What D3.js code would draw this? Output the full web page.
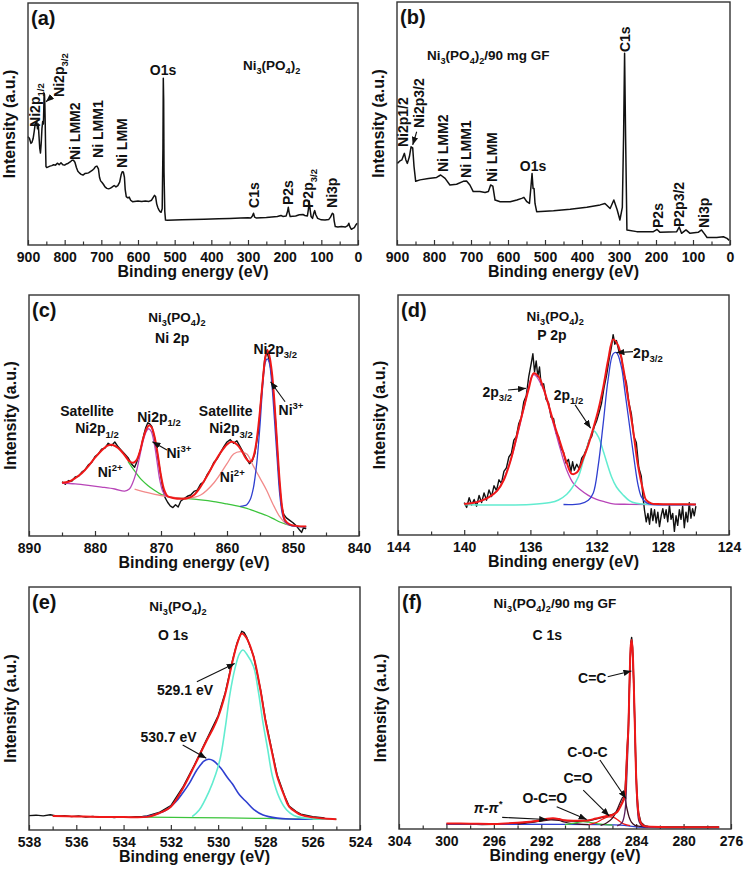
<!DOCTYPE html>
<html><head><meta charset="utf-8">
<script src="https://cdn.jsdelivr.net/npm/d3@7"></script>
<style>
body{margin:0;background:#fff}
text{font-family:"Liberation Sans",Arial,sans-serif;font-weight:bold;fill:#111}
</style>
</head><body><script>
// ---------------- DATA ----------------
// (a) survey Ni3(PO4)2  [binding energy eV, intensity a.u.]
const surveyA = [[900,44.8],[896,44],[892,42],[889,42.5],[886,44],[883,47],[880,50.5],[878,50],[876,51],[874,48],[872,50],[870,45],[868,40],[866,38],[864,42],[862,48],[860,51],[858,50],[857,56],[856,62.7],[855,62],[854,58],[853,50],[852,40],[851,32.4],[849,32],[846,32.2],[840,32.6],[835,32.8],[830,33.2],[825,33],[820,33.8],[815,33.2],[810,34],[805,33.2],[800,33],[795,33.5],[790,33.8],[785,34.3],[780,35],[776,35],[772,34.2],[768,32],[764,30.5],[760,29.8],[755,29.2],[750,28.9],[745,29.5],[740,29.6],[735,29.8],[730,30.3],[725,30.8],[720,31.5],[716,32.4],[712,32.6],[708,31.5],[705,28],[702,26.5],[698,25.8],[694,25],[690,24],[685,23.4],[680,23.2],[675,23.5],[670,24],[665,24.6],[660,24],[655,24.5],[650,26],[646,29],[643,30.3],[640,30.2],[637,28],[635,23],[632,20],[628,19.5],[624,19.8],[620,18.5],[615,17.9],[610,18],[600,18.2],[590,18],[580,18.2],[570,18],[563,18.5],[558,19.8],[555,20.5],[552,20],[549,17],[546,15.5],[543,14.5],[540,13.8],[537,13.5],[534,15],[532,40],[531,68.9],[530,60],[529,30],[527,14],[525,10.3],[520,10.2],[500,10.3],[480,10.4],[450,10.5],[420,10.6],[400,10.7],[380,10.8],[350,11],[320,11.2],[300,11.3],[292,11.2],[288,12],[285,13.1],[282,11.5],[278,11.2],[250,11.4],[220,11.8],[210,12.2],[205,11.8],[196,12],[192,14],[190,15.6],[188,13.5],[185,11.8],[170,12],[160,12.5],[150,12.6],[145,12.2],[138,12],[135,15],[133,18.2],[131,15],[128,11.8],[124,11],[120,13.5],[118,14.2],[115,12.5],[110,11],[100,10.4],[90,10.3],[80,10.5],[75,11.5],[70,13.1],[67,12.8],[65,10],[62,7.6],[55,7.4],[45,7.6],[35,7.4],[28,8],[25,9],[22,7.5],[18,6.5],[15,6.8],[10,7.2],[5,8.5],[2,9]];

// (b) survey Ni3(PO4)2/90 mg GF
const surveyB = [[899,33.6],[893,34.5],[887,35],[880,37.7],[876,35],[872,33.6],[866.6,36.3],[862,40.4],[857.6,40],[854,32.3],[849.5,26.2],[837.8,26.8],[815,27.4],[793,27.8],[782,28.8],[770,27.4],[757,24.7],[739,25],[721,26.2],[712,26.3],[703,24.7],[694,22],[676,22],[662,21.6],[653,22],[647,24.7],[641,24.2],[635,18.5],[621,17.8],[594,17.8],[576,18.5],[563,19.2],[557,19.6],[549,17.8],[542,17.1],[538,23.9],[535,29.4],[532.3,23.3],[529.6,23.3],[527,17.1],[522.5,13.7],[477,14.1],[432,14.7],[387,15.5],[351,16.5],[338,17.1],[324,15],[314,18.5],[305,14.5],[297.5,10.3],[291,15.5],[287.6,45],[284.9,78.9],[282.2,45],[278.6,6.2],[252,5.5],[207,5.5],[197,6.4],[189,5.2],[144,5.5],[137.3,7.4],[131,4.8],[119,6.2],[108,4.8],[86,5.2],[77,6.2],[70,4.8],[62,3.1],[36,3.1],[18,3.4],[8,2.7],[2,1.9]];

// (c) Ni 2p high resolution
const ni2pData = [[885,22.5],[884.5,21.5],[884,23],[883.5,22.8],[883,24.5],[882.5,24.8],[882,26.5],[881.5,27.5],[881,29.5],[880.5,30.5],[880,33],[879.5,34],[879,36],[878.5,36.5],[878,38.5],[877.5,37.5],[877,39],[876.5,37],[876,35.5],[875.5,34],[875,32.5],[874.5,30],[874,28.5],[873.7,30.5],[873.4,33],[873,37],[872.6,42],[872.3,45],[872,47],[871.7,46.5],[871.4,45.5],[871,41],[870.6,35],[870.2,28],[869.8,21],[869.4,16],[869,14],[868.6,12.5],[868.2,11.8],[867.8,13],[867.4,12],[867,14.5],[866.5,15.5],[866,16.5],[865.5,17],[865,18.5],[864.5,19],[864,21.5],[863.5,22.5],[863,25.5],[862.5,27.5],[862,30.5],[861.5,32],[861,34.5],[860.5,37],[860,39],[859.5,40],[859,38.5],[858.5,39.5],[858,37],[857.5,34.5],[857,32],[856.6,30],[856.2,31],[855.8,34],[855.5,39],[855.2,44],[854.9,55],[854.6,64],[854.3,73],[854,76.5],[853.8,75],[853.5,72],[853.2,66],[852.9,57],[852.6,46],[852.3,32],[852,20],[851.7,12],[851.4,9],[851,7.5],[850.5,6.5],[850,5.5],[849.5,4.2],[849,2.5],[848.7,1.5],[848.4,3.5],[848,3]];
const ni2pFit = [[885,22.1],[884,22.5],[883,24],[882,26],[881,29],[880,32.5],[879,35.5],[878,37.6],[877.3,37.8],[876.5,36.5],[875.5,33.5],[874.8,31],[874.2,30.4],[873.7,31.5],[873.2,35],[872.7,40.5],[872.2,44.5],[871.8,46],[871.4,45],[871,41.5],[870.5,34],[870,25],[869.5,19],[869,16.5],[868,15.7],[867,15.5],[866,15.7],[865,17],[864,20.5],[863,25],[862,30],[861,34.5],[860,38],[859.3,39.1],[858.5,38],[857.8,35.5],[857.2,32.5],[856.6,30.8],[856.2,31.5],[855.8,35],[855.4,42],[855,52],[854.6,64],[854.2,74],[853.9,77.2],[853.6,75],[853.2,68],[852.8,55],[852.4,38],[852,22],[851.6,11],[851.2,6.5],[850.5,4.8],[849.5,4.2],[848,3.9]];
const ni2pNi3p32 = [[858,12.3],[857.5,12.5],[857,13],[856.5,15],[856,20],[855.5,30],[855,46],[854.6,62],[854.2,72],[853.9,73.5],[853.6,72],[853.2,63],[852.8,48],[852.4,32],[852,17],[851.6,9],[851.2,6],[850.5,4.5],[849.5,4],[848,3.8]];
const ni2pNi3p12 = [[885,22],[883,21.6],[881,21],[879,20.3],[877,19.5],[875.5,18.6],[874.8,19.5],[874.3,22],[873.8,26],[873.3,32],[872.8,38.5],[872.3,43],[871.9,44.5],[871.5,43.5],[871,38],[870.6,31],[870.2,23.5],[869.8,19],[869.4,17],[869,16.3]];
const ni2pNi2p32 = [[874,19.5],[872,18],[870,16.8],[868,16],[866,15.6],[864,17],[862,22],[860,30],[859,34],[858,35],[857,34],[856,29],[855,24],[854,19],[853,13],[852,8],[851,5],[850,4.2],[848,4]];
const ni2pSat = [[875,31],[874,27],[873,23.5],[872,21],[871,19],[870,17.3],[869,16.3],[868,15.8],[866,15.5],[864,15],[862,14.3],[860,13.3],[858,12.2],[857,11.5],[856,10.5],[855,9.5],[854,8.5],[853,7.2],[852,5.8],[851,4.8],[850,4.2],[848,3.8]];

// (d) P 2p
const p2pData = [[140,13.5],[139.85,11.5],[139.7,15.5],[139.55,12.5],[139.4,14.8],[139.25,12],[139.1,16.5],[138.95,13.5],[138.8,17.5],[138.65,14.5],[138.5,18.8],[138.35,16],[138.2,20.5],[138.05,18.5],[137.9,23],[137.75,21.5],[137.6,26.5],[137.45,28],[137.3,32.5],[137.15,34],[137,39.5],[136.85,41],[136.7,46.5],[136.55,49],[136.4,55.5],[136.25,58],[136.1,66],[135.95,71.5],[135.85,75.5],[135.75,68],[135.65,72.5],[135.55,66],[135.45,70],[135.35,62.5],[135.2,63],[135.05,56.5],[134.9,55],[134.75,49],[134.6,48.5],[134.45,42.5],[134.3,41],[134.15,36],[134,34.5],[133.85,30],[133.7,31.5],[133.55,26.5],[133.45,30.5],[133.35,27],[133.2,29.5],[133.05,27.5],[132.9,32],[132.75,33.5],[132.6,36],[132.45,39.5],[132.3,41],[132.15,45],[132,47.5],[131.85,51],[131.7,55],[131.55,61.5],[131.4,66.5],[131.25,73],[131.1,78.5],[131,83.5],[130.9,79.5],[130.8,81],[130.65,76.5],[130.5,74],[130.35,67],[130.2,63.5],[130.05,55],[129.9,50.5],[129.75,41],[129.6,38.5],[129.45,28],[129.3,24.5],[129.2,16],[129.1,10],[129,5.5],[128.9,9],[128.8,4.5],[128.7,11],[128.6,6],[128.5,10.5],[128.4,5],[128.3,9.5],[128.2,3.5],[128.1,8],[128,11],[127.9,7],[127.8,10.5],[127.7,5.5],[127.6,12.5],[127.5,6.5],[127.4,9],[127.3,1.5],[127.2,8],[127.1,4],[127,10.5],[126.9,6.5],[126.8,12],[126.7,3],[126.6,9.5],[126.5,5.5],[126.4,13.5],[126.3,7],[126.2,11],[126.1,8],[126,12]];
const p2pFit = [[140,12.9],[139.5,13.3],[139,14.2],[138.5,15.8],[138,18.5],[137.6,23],[137.2,31],[136.8,42],[136.4,53],[136.1,61],[135.8,67.4],[135.5,66],[135.2,61],[135,56.5],[134.6,47],[134.2,38.5],[133.8,30],[133.5,25.5],[133.2,26],[132.8,32],[132.5,37.5],[132.2,44.5],[131.9,52],[131.6,61.5],[131.3,73],[131,81.5],[130.7,79],[130.4,70],[130.1,57],[129.8,44],[129.5,29],[129.2,19],[129,14.5],[128.7,13.2],[128.3,12.9],[127,12.8],[126,12.7]];
const p2pA = [[140,12.9],[139,14.2],[138,18.5],[137.2,31],[136.4,52.5],[135.8,66.8],[135.2,60.5],[134.6,46],[134.2,36],[133.8,27],[133.4,21.5],[133,19],[132.5,16.5],[132,14.8],[131.5,13.8],[131,13],[130,12.8],[128,12.7],[126,12.7]];
const p2pB = [[140,12.6],[136,12.7],[134.8,13.5],[134.3,14.6],[133.8,17],[133.5,19.5],[133.1,24.3],[132.8,31],[132.5,38],[132.2,43.5],[131.9,41],[131.6,35],[131.1,24.3],[130.8,20],[130.4,16.7],[130,14.2],[129.6,13.2],[129,12.8],[126,12.7]];
const p2pC = [[134,12.7],[133,13],[132.5,14.5],[132.2,17.5],[131.9,29],[131.6,46.5],[131.3,65],[131,75.5],[130.8,76],[130.5,70],[130.3,60.4],[130,45],[129.7,29.8],[129.5,21],[129.3,16],[129,13.5],[128.7,12.8],[126,12.7]];

// (e) O 1s
const o1sData = [[538,5.9],[537.7,6.1],[537.4,5.8],[537.1,6.3],[536.8,5.7],[536.5,5.9],[536.2,5.5],[535.9,5.8],[535.6,5.3],[535.3,5.6],[535,5.2],[534.7,5.5],[534.4,5.1],[534.1,5.4],[533.8,5.2],[533.5,5.5],[533.2,5.6],[533,5.8],[532.5,7.2],[532,10],[531.5,17.5],[531,26.8],[530.5,37],[530,47],[529.7,56.5],[529.4,69.5],[529.2,77],[529,81.8],[528.9,81.2],[528.8,79.5],[528.5,71.5],[528.2,57.5],[528,45.5],[527.7,31.5],[527.5,22.5],[527.2,14.3],[527,9.9],[526.7,7.6],[526.5,6.5],[526,5.5],[525.5,5]];
const o1sFit = [[537,5.8],[536,5.6],[535,5.4],[534,5.3],[533,5.4],[532.5,6.9],[532,9.6],[531.5,17],[531,26.5],[530.5,36.5],[530.2,42],[530,46.5],[529.7,56],[529.4,69],[529.2,76.5],[529,80.9],[528.8,79],[528.5,71.3],[528.2,57],[528,45],[527.7,31],[527.5,22],[527.2,14],[527,9.6],[526.7,7.3],[526.5,6.2],[526,5.2],[525.5,4.7],[525,4.4]];
const o1sLattice = [[531.1,5.5],[530.8,8.2],[530.4,15.5],[530.1,23],[529.9,30],[529.7,42],[529.5,56],[529.3,66],[529.1,72.5],[528.95,74.1],[528.8,72.5],[528.5,67.2],[528.3,57],[528.1,44],[527.9,33],[527.7,21.9],[527.4,13],[527.1,8.2],[526.8,6],[526.4,5],[525,4.4]];
const o1sDefect = [[533.2,5.3],[532.7,6.3],[532.2,8.2],[531.8,11.5],[531.5,15.2],[531.2,19.5],[530.9,24.7],[530.6,28.3],[530.4,29.1],[530.2,28.5],[529.9,25.6],[529.6,21.5],[529.4,19],[529.1,14.5],[528.8,11.5],[528.5,8.5],[528.1,6.2],[527.5,4.9],[527,4.5],[526,4.4]];
const o1sBase = [[533.2,5.3],[531,5.1],[529,4.9],[527,4.6],[525,4.4]];

// (f) C 1s
const c1sData = [[300,2],[299,1.9],[298,2],[297,1.8],[296,1.9],[295,2.1],[294,2.4],[293,2.9],[292,3.5],[291.5,3.9],[291,4.2],[290.5,4],[290,3.4],[289,3.2],[288,3.4],[287.5,4],[287,4.6],[286.5,5.2],[286,6],[285.6,7.2],[285.3,9.8],[285.1,12],[284.95,14.5],[284.85,23],[284.75,34],[284.66,42],[284.55,63],[284.45,77],[284.38,79.2],[284.3,75],[284.2,61],[284.1,41.5],[284,22.5],[283.9,12.5],[283.8,6.8],[283.6,2.8],[283.3,1.4],[283,1.1],[282,0.9],[280,0.8],[277,0.8]];
const c1sFit = [[300,2.3],[298,2.2],[296,2.1],[294,2.6],[293,3],[292,3.6],[291.5,4.2],[291,4.4],[290.5,4.1],[290,3.6],[289,3.4],[288,3.6],[287.5,4.2],[287,4.8],[286.5,5.4],[286,5.8],[285.6,7],[285.3,9.5],[285.1,11.5],[284.95,14],[284.85,22],[284.75,33],[284.66,41],[284.55,62],[284.45,76],[284.38,78.1],[284.3,74],[284.2,60],[284.1,41],[284,22],[283.9,12],[283.8,6.5],[283.6,2.5],[283.3,1.2],[283,1],[282,0.8],[280,0.7],[277,0.7]];
const c1sCC = [[285.6,1.3],[285.2,2.5],[284.95,7],[284.8,20],[284.66,38],[284.55,60],[284.45,74],[284.38,76],[284.3,72],[284.2,58],[284.1,39],[284,20],[283.9,9],[283.75,3],[283.5,1.3],[283,1]];
const c1sCOC = [[287,1.5],[286.5,2.5],[286,4.5],[285.6,8],[285.3,11.5],[285.1,13.2],[284.95,12.5],[284.8,9],[284.6,5],[284.4,2.8],[284.1,1.5],[283.8,1.2],[283,1]];
const c1sCO = [[288,1.8],[287.3,2.8],[286.8,4.2],[286.3,5],[285.9,4.8],[285.4,3.2],[285,2],[284.5,1.4]];
const c1sOCO = [[290,1.8],[289,2.6],[288.5,3],[288,2.8],[287,2],[286,1.6]];
const c1sPi = [[294,2],[293,2.6],[292,3.3],[291.2,3.8],[290.5,3.5],[290,2.8],[289,2.1],[288,1.8]];
const c1sBase = [[300,2],[290,1.9],[287,1.8],[286,1.7],[285,1.5],[284.5,1.2],[284,0.9],[283,0.7],[277,0.6]];

// tick values
const ticksA = [900,800,700,600,500,400,300,200,100,0];
const ticksC = [890,880,870,860,850,840];
const ticksD = [144,140,136,132,128,124];
const ticksE = [538,536,534,532,530,528,526,524];
const ticksF = [304,300,296,292,288,284,280,276];

// annotation texts & anchors (data coordinates)
const labelsA = [
 {t:"Ni2p_{1/2}",E:880.9,v:48.8,rot:1},{t:"Ni2p_{3/2}",E:815.5,v:61.2,rot:1},
 {t:"Ni LMM2",E:771.8,v:35.1,rot:1},{t:"Ni LMM1",E:709.1,v:36,rot:1},{t:"Ni LMM",E:643.7,v:31.8,rot:1},
 {t:"O1s",E:531.8,v:70.2,mid:1},{t:"Ni_{3}(PO_{4})_{2}",E:313.7,v:72.3,small:1},
 {t:"C1s",E:283.7,v:15.3,rot:1},{t:"P2s",E:191,v:16.5,rot:1},{t:"P2p_{3/2}",E:136.4,v:15.3,rot:1},{t:"Ni3p",E:71,v:15.3,rot:1}];
const arrowsA = [[835,61.3,851,59.2]];
const labelsB = [
 {t:"Ni_{3}(PO_{4})_{2}/90 mg GF",E:818.9,v:76.1,small:1},
 {t:"Ni2p1/2",E:883.8,v:40.3,rot:1},{t:"Ni2p3/2",E:840.5,v:48.1,rot:1},
 {t:"Ni LMM2",E:775.7,v:30,rot:1},{t:"Ni LMM1",E:713.5,v:27.6,rot:1},{t:"Ni LMM",E:643.2,v:25.9,rot:1},
 {t:"O1s",E:532.4,v:30.5,mid:1},{t:"C1s",E:283.8,v:79.4,rot:1},
 {t:"P2s",E:194.6,v:7,rot:1},{t:"P2p3/2",E:137.8,v:7.4,rot:1},{t:"Ni3p",E:70.3,v:7,rot:1}];
const arrowsB = [[846.8,46.6,857.6,41.2]];
const labelsC = [
 {t:"Ni_{3}(PO_{4})_{2}",E:867.6,v:88.8,mid:1,small:1},{t:"Ni 2p",E:868.3,v:80.1,mid:1},
 {t:"Ni2p_{3/2}",E:852.7,v:75.5,mid:1},{t:"Ni^{3+}",E:850.3,v:50.2,mid:1},
 {t:"Satellite",E:881.2,v:49.6,mid:1},{t:"Ni2p_{1/2}",E:879.7,v:42.6,mid:1},
 {t:"Ni2p_{1/2}",E:870.3,v:47.3,mid:1},{t:"Ni^{3+}",E:867.3,v:32.4,mid:1},
 {t:"Ni^{2+}",E:877.7,v:24.5,mid:1},{t:"Satellite",E:860.2,v:49.6,mid:1},
 {t:"Ni2p_{3/2}",E:859.4,v:42.6,mid:1},{t:"Ni^{2+}",E:859.2,v:22.4,mid:1}];
const arrowsC = [[851.2,55.7,853.4,64],[869.1,35.7,871.3,39.1]];
const labelsD = [
 {t:"Ni_{3}(PO_{4})_{2}",E:134.5,v:89.2,mid:1,small:1},{t:"P 2p",E:134.7,v:81.3,mid:1},
 {t:"2p_{3/2}",E:128.9,v:73.75,mid:1},{t:"2p_{3/2}",E:138,v:57.5,mid:1},{t:"2p_{1/2}",E:133.7,v:56.25,mid:1}];
const arrowsD = [[129.8,76.4,130.8,76],[137.35,60.4,136.27,61.1],[133.3,54.2,132.36,44.5]];
const labelsE = [
 {t:"Ni_{3}(PO_{4})_{2}",E:531.7,v:90.1,mid:1,small:1},{t:"O 1s",E:531.9,v:78.2,mid:1},
 {t:"529.1 eV",E:531.4,v:55.6,mid:1},{t:"530.7 eV",E:532.1,v:36.2,mid:1}];
const arrowsE = [[530.9,61,529.3,68.5],[531.5,35,530.5,29.5]];
const labelsF = [
 {t:"Ni_{3}(PO_{4})_{2}/90 mg GF",E:290.85,v:91.3,mid:1,small:1},{t:"C 1s",E:291.5,v:78.1,mid:1},
 {t:"C=C",E:287.7,v:60.3,mid:1},{t:"C-O-C",E:288.1,v:29.8,mid:1},{t:"C=O",E:288.9,v:19,mid:1},
 {t:"O-C=O",E:291.7,v:10.7,mid:1},{t:"π-π^{*}",E:296.5,v:6.6,mid:1,ital:1}];
const arrowsF = [[286.4,62.9,284.4,65.3],[287.05,28.5,284.86,12.6],[288.46,16.1,286.27,5.4],[290.7,9.2,288.17,3.9],[295.3,4.8,291.5,3.9]];

// ---------------- DRAWING ----------------
const W=747,H=877;
const svg = d3.select("body").append("svg").attr("width",W).attr("height",H);
svg.append("defs").append("marker").attr("id","ah").attr("viewBox","0 0 10 8")
  .attr("refX",10).attr("refY",4).attr("markerWidth",8).attr("markerHeight",6.4)
  .attr("markerUnits","userSpaceOnUse").attr("orient","auto")
  .append("path").attr("d","M0,0L10,4L0,8Z").attr("fill","#111");

const COL = {black:"#111",red:"#f01818",blue:"#2f3fd0",mag:"#b845b8",cyan:"#62ecd0",green:"#3cc43c",pink:"#f28a8a",purple:"#5a1d5a",maroon:"#3c0c1c"};
const FS = 14;

function rich(sel, str, fs){
  const parts = str.split(/(_\{[^}]*\}|\^\{[^}]*\})/).filter(s=>s.length);
  let shift = 0;
  parts.forEach(p=>{
    let kind="n", txt=p;
    if(p.startsWith("_{")){kind="sub";txt=p.slice(2,-1);}
    else if(p.startsWith("^{")){kind="sup";txt=p.slice(2,-1);}
    const target = kind==="sub"? fs*0.3 : kind==="sup"? -fs*0.42 : 0;
    const ts = sel.append("tspan").text(txt);
    if(target-shift!==0) ts.attr("dy",target-shift);
    if(kind!=="n") ts.attr("font-size",fs*0.68);
    shift = target;
  });
}

function panel(L, dom, majors, step, letter){
  const g = svg.append("g");
  const x = d3.scaleLinear().domain(dom).range([L.x0,L.x1]);
  const y = d3.scaleLinear().domain([0,100]).range([L.y1,L.y0]);
  const minors = d3.range(Math.min(...dom), Math.max(...dom)+1e-9, step/2).filter(v=>!majors.some(m=>Math.abs(m-v)<1e-9));
  const ax = g.append("g").attr("transform",`translate(0,${L.y1})`)
    .call(d3.axisBottom(x).tickValues(majors).tickSize(-5).tickPadding(7).tickFormat(d3.format("d")));
  ax.select(".domain").remove();
  ax.selectAll("text").attr("font-size",FS).attr("font-family","Liberation Sans, Arial, sans-serif").attr("font-weight","bold").attr("fill","#111");
  ax.selectAll("line").attr("stroke","#333").attr("stroke-width",1.2);
  const mx = g.append("g").attr("transform",`translate(0,${L.y1})`)
    .call(d3.axisBottom(x).tickValues(minors).tickSize(-3.5).tickFormat(""));
  mx.select(".domain").remove();
  mx.selectAll("line").attr("stroke","#333").attr("stroke-width",1.2);
  g.append("text").attr("x",(L.x0+L.x1)/2).attr("y",L.y1+32).attr("text-anchor","middle")
    .attr("font-size",16).text("Binding energy (eV)");
  g.append("text").attr("transform",`translate(${L.x0-13},${(L.y0+L.y1)/2}) rotate(-90)`)
    .attr("text-anchor","middle").attr("font-size",16).text("Intensity (a.u.)");
  g.append("text").attr("x",L.x0+3).attr("y",L.y0+22).attr("font-size",20).text(letter);
  return {g,x,y,L};
}
function frame(P){
  P.g.append("rect").attr("x",P.L.x0).attr("y",P.L.y0).attr("width",P.L.x1-P.L.x0).attr("height",P.L.y1-P.L.y0)
    .attr("fill","none").attr("stroke","#333").attr("stroke-width",1.4);
}
function curve(P, data, color, w, smooth){
  const ln = d3.line().x(d=>P.x(d[0])).y(d=>P.y(d[1]));
  if(smooth) ln.curve(d3.curveCatmullRom.alpha(0.5));
  P.g.append("path").datum(data).attr("d",ln).attr("fill","none").attr("stroke",color)
    .attr("stroke-width",w).attr("stroke-linejoin","round");
}
function annotate(P, labels, arrows){
  labels.forEach(l=>{
    const fs = l.small? 13.5 : FS;
    const px = P.x(l.E), py = P.y(l.v);
    const t = P.g.append("text").attr("font-size",fs);
    if(l.rot){ t.attr("transform",`translate(${px+fs*0.35},${py}) rotate(-90)`).attr("text-anchor","start"); }
    else { t.attr("x",px).attr("y",py).attr("text-anchor", l.mid? "middle":"start"); }
    if(l.ital) t.attr("font-style","italic");
    rich(t, l.t, fs);
  });
  arrows.forEach(a=>{
    P.g.append("line").attr("x1",P.x(a[0])).attr("y1",P.y(a[1])).attr("x2",P.x(a[2])).attr("y2",P.y(a[3]))
      .attr("stroke","#111").attr("stroke-width",1.1).attr("marker-end","url(#ah)");
  });
}

const LA={x0:28,x1:358,y0:3,y1:245}, LB={x0:397,x1:730,y0:2,y1:245},
      LC={x0:29,x1:359,y0:295,y1:536}, LD={x0:398,x1:729,y0:295,y1:535},
      LE={x0:29,x1:360,y0:587,y1:830}, LF={x0:399,x1:731,y0:587,y1:829};

// (a)
const A = panel(LA,[900,0],ticksA,100,"(a)");
curve(A, surveyA, COL.black, 1.5);
annotate(A, labelsA, arrowsA); frame(A);
// (b)
const B = panel(LB,[900,0],ticksA,100,"(b)");
curve(B, surveyB, COL.black, 1.5);
annotate(B, labelsB, arrowsB); frame(B);
// (c)
const C = panel(LC,[890,840],ticksC,10,"(c)");
curve(C, ni2pData, COL.black, 1.4);
curve(C, ni2pSat, COL.green, 1.3, 1);
curve(C, ni2pNi2p32, COL.pink, 1.3, 1);
curve(C, ni2pNi3p12, COL.mag, 1.3, 1);
curve(C, ni2pNi3p32, COL.blue, 1.3, 1);
curve(C, ni2pFit, COL.red, 2, 1);
annotate(C, labelsC, arrowsC); frame(C);
// (d)
const D = panel(LD,[144,124],ticksD,4,"(d)");
curve(D, p2pData, COL.black, 1.4);
curve(D, p2pA, COL.mag, 1.3, 1);
curve(D, p2pB, COL.cyan, 1.5, 1);
curve(D, p2pC, COL.blue, 1.3, 1);
curve(D, p2pFit, COL.red, 2, 1);
annotate(D, labelsD, arrowsD); frame(D);
// (e)
const E = panel(LE,[538,524],ticksE,2,"(e)");
curve(E, o1sData, COL.black, 1.4);
curve(E, o1sBase, COL.green, 1.3, 1);
curve(E, o1sDefect, COL.blue, 1.6, 1);
curve(E, o1sLattice, COL.cyan, 1.6, 1);
curve(E, o1sFit, COL.red, 2, 1);
annotate(E, labelsE, arrowsE); frame(E);
// (f)
const F = panel(LF,[304,276],ticksF,4,"(f)");
curve(F, c1sData, COL.black, 1.4);
curve(F, c1sBase, COL.blue, 1.3, 1);
curve(F, c1sPi, COL.maroon, 1.2, 1);
curve(F, c1sOCO, COL.green, 1.2, 1);
curve(F, c1sCO, COL.red, 1.2, 1);
curve(F, c1sCOC, COL.maroon, 1.3, 1);
curve(F, c1sCC, COL.purple, 1.3, 1);
curve(F, c1sFit, COL.red, 2, 1);
annotate(F, labelsF, arrowsF); frame(F);
</script></body></html>
